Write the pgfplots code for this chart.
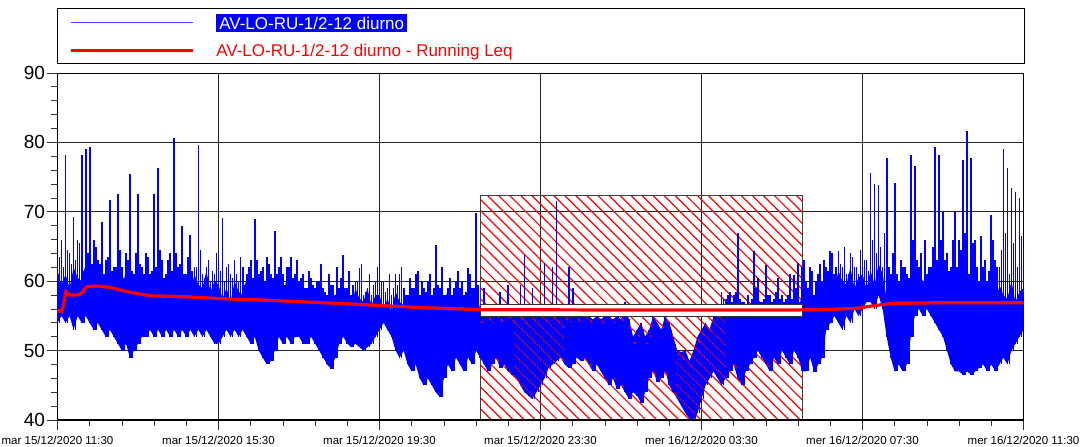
\documentclass[border=0pt]{standalone}
\usepackage{fontspec}
\setmainfont{Liberation Sans}
\usepackage{pgfplots}
\usepackage{pgfplotstable}
\pgfplotsset{compat=1.18}
\usepgfplotslibrary{fillbetween}
\usetikzlibrary{patterns.meta}
\definecolor{dblue}{RGB}{0,0,255}
\definecolor{lblue}{RGB}{70,70,255}
\definecolor{dred}{RGB}{255,0,0}
% t = hours after 15/12 11:30; hi = peak, lo = trough, c = top of the dense core, m = secondary peak (t+0.05)
\pgfplotstableread{
t hi lo c m
0.0 63 54 61.5 63.5
0.1 66 55 59.5 62
0.2 78.2 54 61 64.5
0.3 64 55 59 62.5
0.4 69.3 53 62 63
0.5 66 55 60.5 65.5
0.6 78.2 54 60 61.5
0.7 79 55 62.5 64
0.8 79.4 54 59.5 62.5
0.9 66 53 61 65
1.0 63 54 60.5 62.5
1.1 68.6 53 58.5 61
1.2 63 52 60 63.5
1.3 71.7 53 58 61.5
1.4 62 52 61 62
1.5 72.5 51 59.5 64.5
1.6 62 50 59 60.5
1.7 64 51 61.5 63
1.8 75.4 49 58.5 61.5
1.9 61 50 60 64
2.0 72.6 51 60.5 62.5
2.1 62 52 58.5 61
2.2 64 52 60 63.5
2.3 61 53 58 61.5
2.4 72.5 52 61 62
2.5 76.3 53 59.5 64.5
2.6 63 52 59 60.5
2.7 61 53 61.5 63
2.8 64 52 58.5 61.5
2.9 80.6 53 60 64
3.0 62 52 60.5 62.5
3.1 67.9 53 58.5 61
3.2 61 52 60 63.5
3.3 66.7 53 58 61.5
3.4 62 52 61 62
3.5 79.6 53 59.5 64.5
3.6 61 52 59 60.5
3.7 62 53 61.5 63
3.8 60 52 58.5 61.5
3.9 61 51 60 64
4.0 63 51 59.5 61.5
4.1 69.1 52 57.5 60
4.2 62 53 59 62.5
4.3 61 52 57 60.5
4.4 63 53 60 61
4.5 60 52 58.5 63.5
4.6 62 53 58 59.5
4.7 61 52 60.5 62
4.8 63 51 57.5 60.5
4.9 68.9 52 59 63
5.0 61 50 59.5 61.5
5.1 62 49 57.5 60
5.2 63.5 48 59 62.5
5.3 61 48.5 57 60.5
5.4 67.2 50 60 61
5.5 62 52 58.5 63.5
5.6 61 51 58 59.5
5.7 62 52 60.5 62
5.8 63.5 51 57.5 60.5
5.9 61 52 59 63
6.0 60 52 58.5 60.5
6.1 61 51 56.5 59
6.2 59 51 58 61.5
6.3 60.5 52 56 59.5
6.4 59 51 59 60
6.5 60 50 57.5 62.5
6.6 59 49 57 58.5
6.7 58 48 59.5 61
6.8 59.5 47.4 56.5 59.5
6.9 58 49 58 62
7.0 59 51 58.5 60.5
7.1 63.8 52 56.5 59
7.2 59 51 58 61.5
7.3 58 50.5 56 59.5
7.4 60 51 59 60
7.5 61.9 50.5 57.5 62.5
7.6 58 50 57 58.5
7.7 59 50.5 59.5 61
7.8 58 51 56.5 59.5
7.9 60 52 58 62
8.0 65.8 53 58 60
8.1 60 54 56 58.5
8.2 59 53 57.5 61
8.3 58 52 55.5 59
8.4 61 50 58.5 59.5
8.5 61.1 49 57 62
8.6 59 50 56.5 58
8.7 58 48 59 60.5
8.8 59 47 56 59
8.9 61.1 48 57.5 61.5
9.0 58 46 58 60
9.1 59 45 56 58.5
9.2 60 46 57.5 61
9.3 58 45 55.5 59
9.4 65.2 44 58.5 59.5
9.5 59 43.3 57 62
9.6 58 46 56.5 58
9.7 59 48 59 60.5
9.8 58 47 56 59
9.9 60 49 57.5 61.5
10.0 59 48 58 60
10.1 58 47 56 58.5
10.2 61.9 49 57.5 61
10.3 59 48 55.5 59
10.4 69.8 50 58.5 59.5
10.5 56 49 56 54
10.6 59 48 56 54
10.7 55.5 47 56 54
10.8 55 48 56 54
10.9 55.5 49 56 54
11.0 58.5 47.5 56 54
11.1 55 48 56 54
11.2 59.5 47 56 54
11.3 55 46.5 56 54
11.4 55.5 46 56 54
11.5 59.5 45 56 54
11.6 63.8 44 56 54
11.7 55 43.5 56 54
11.8 59 43 56 54
11.9 55 44 56 54
12.0 55.5 45 56 54
12.1 62.6 46 56 54
12.2 55 47.5 56 54
12.3 62.1 48 56 54
12.4 71.5 48.5 56 54
12.5 55 49 56 54
12.6 55.5 48 56 54
12.7 62.1 47.5 56 54
12.8 59 48 56 54
12.9 55 49 56 54
13.0 55.5 48.5 56 54
13.1 55 49 56 54
13.2 55 48 56 54
13.3 54.5 47 56 54
13.4 55 48 56 54
13.5 54.5 47 56 54
13.6 55 46 56 54
13.7 55 45 56 54
13.8 54.5 46 56 54
13.9 55 44.5 56 54
14.0 54.5 45 56 54
14.1 57 44 56 54
14.2 54.5 43 56 53
14.3 52 44 56 51
14.4 53 43.5 56 52
14.5 54 42.5 56 53
14.6 52 44 56 51
14.7 53 46 56 52
14.8 55 47 56 54
14.9 54 45.5 56 53
15.0 53 46 56 52
15.1 55 47 56 54
15.2 54 45 56 53
15.3 52 44 56 51
15.4 50 43 56 49
15.5 49.8 42 56 48
15.6 50 41 56 49
15.7 48.5 40.2 56 47
15.8 50 40 56 49
15.9 52 41 56 51
16.0 53 43 56 52
16.1 54 45 56 53
16.2 53 46 56 52
16.3 55 47 56 54
16.4 55 46 56 54
16.5 58.5 45 56 57.5
16.6 57.5 46 56 58
16.7 58.5 47 56 57
16.8 58 48 56 58.5
16.9 66.9 46 56 57.5
17.0 57 45 56 57
17.1 55.5 47 56 58
17.2 56 48 56 57.5
17.3 64.3 49 56 59
17.4 60.4 50 56 57
17.5 57 49 56 57.5
17.6 62.3 48 56 58
17.7 58 47 56 57
17.8 57.5 49 56 58.5
17.9 60.4 48 56 57.5
18.0 58 50 56 57
18.1 57.5 49 56 58
18.2 61.1 48 56 57.5
18.3 60.9 50 56 59
18.4 62.6 49 56 57
18.5 62 47 58 63
18.6 60 47 57.5 59
18.7 62 49 60 61.5
18.8 58 46.9 57 60
18.9 61 48 58.5 62.5
19.0 60 49 61 63
19.1 62 53 59 61.5
19.2 64.3 54 60.5 64
19.3 61 55 58.5 62
19.4 64.3 54 61.5 62.5
19.5 62 53 60 65
19.6 61 55 59.5 61
19.7 64 54 62 63.5
19.8 62 56 59 62
19.9 61 55 60.5 64.5
20.0 62 56 61 63
20.1 63 57 59 61.5
20.2 75.6 57 61.5 66
20.3 74 56 59.5 64
20.4 73.9 58 62.5 65
20.5 62 56 61 67
20.6 77.8 52 57.5 62
20.7 61 49 60 64
20.8 74.1 47 57 61
20.9 60 48 58.5 63
21.0 62 47 59 62
21.1 61 48 57 60.5
21.2 78.2 52 60.5 66
21.3 76.6 55 58.5 63
21.4 62 56 61.5 64
21.5 60 55 60 66
21.6 61 56 59.5 62
21.7 62 55 62 65
21.8 79.4 54 59 63
21.9 78.2 53 60.5 66
22.0 70 52 59 63
22.1 64 50 57 61.5
22.2 62 48 58.5 66
22.3 70.1 47 56.5 62
22.4 66 47 59.5 64.5
22.5 77.5 46.5 58 67
22.6 81.6 47 57.5 61
22.7 77.8 46.5 60 65.5
22.8 66 47 57 62
22.9 60 47.5 58.5 66.5
23.0 62 48 59 63
23.1 60 47 57 61.5
23.2 69.6 48 58.5 66
23.3 63 47 56.5 62
23.4 62 48 59.5 64.5
23.5 79 49 58 67
23.6 76.3 48 57.5 61
23.7 73.4 50 60 65.5
23.8 72.9 51 57 62
23.9 72 52 58.5 66.5
24.0 65 53 59 63
}\bdata
\begin{document}
\begin{tikzpicture}
\begin{axis}[
  scale only axis, width=966pt, height=347pt,
  xmin=0, xmax=24, ymin=40, ymax=90,
  xtick={0,4,...,24},
  xticklabels={mar 15/12/2020 11:30, mar 15/12/2020 15:30, mar 15/12/2020 19:30, mar 15/12/2020 23:30, mer 16/12/2020 03:30, mer 16/12/2020 07:30, mer 16/12/2020 11:30},
  ytick={40,50,...,90},
  minor x tick num=4, minor y tick num=4,
  tick pos=left, tick align=outside,
  major tick length=10pt, minor tick length=6pt,
  tick style={black!80, line width=0.8pt},
  grid=major, major grid style={black!85, line width=1pt},
  axis line style={black, line width=0.9pt},
  xticklabel style={font=\fontsize{11.5}{12}\selectfont, yshift=-3pt},
  yticklabel style={font=\fontsize{19}{20}\selectfont, xshift=1pt},
  /pgf/number format/assume math mode=true,
  legend style={at={(rel axis cs:0,1)}, anchor=south west, yshift=9pt, draw=black, line width=0.8pt,
     inner xsep=12pt, inner ysep=4pt, row sep=9pt, font=\fontsize{17}{18}\selectfont},
  legend cell align=left,
]
\addplot[draw=black!75, line width=0.8pt, pattern={Lines[angle=-45,distance=7.8pt,line width=1.2pt]}, pattern color=dred, forget plot]
  coordinates {(10.5,40)(10.5,72.3)(18.5,72.3)(18.5,40)} -- cycle;

\addplot[name path=blo, draw=none, forget plot] table[x=t, y=lo] {\bdata};
\addplot[name path=bhi, draw=none, forget plot] table[x=t, y expr={min(\thisrow{hi},\thisrow{c})}] {\bdata};
\addplot[fill=dblue, draw=none, forget plot] fill between[of=bhi and blo];
\addplot[draw=dblue, line width=1.7pt, no markers, forget plot,
  quiver={u=0, v=\thisrow{m}-\thisrow{lo}}]
  table[x expr={\thisrow{t}+0.05}, y=lo] {\bdata};
\addplot[draw=dblue, line width=1.7pt, no markers,
  quiver={u=0, v=\thisrow{hi}-\thisrow{lo}},
  legend image code/.code={\draw[draw=lblue, line width=1.1pt] (0pt,0pt) -- (122pt,0pt);}]
  table[x=t, y=lo] {\bdata};
\addlegendentry{\hspace*{20pt}\colorbox{dblue}{\textcolor{white}{AV-LO-RU-1/2-12 diurno}}}

\addplot[fill=white, draw=black!80, line width=0.8pt, forget plot]
  coordinates {(10.5,55.0)(10.5,56.7)(18.5,56.7)(18.5,55.0)} -- cycle;

\addplot[draw=dred, line width=3.2pt, no markers,
  legend image code/.code={\draw[draw=dred, line width=2.4pt] (0pt,0pt) -- (122pt,0pt);}]
 coordinates {(0,55.8)(0.1,55.6)(0.15,56.5)(0.21,58.5)(0.3,58.0)(0.5,58.0)(0.6,58.3)(0.73,59.2)(1.0,59.3)(1.3,59.1)(1.8,58.4)(2.3,57.9)(3.0,57.8)(3.7,57.6)(4.4,57.4)(5.0,57.3)(6.0,57.05)(7.0,56.8)(8.0,56.5)(9.0,56.2)(10.0,56.0)(10.5,55.9)(14,55.85)(18.2,55.85)(19.0,55.9)(19.87,56.1)(20.2,56.4)(20.7,56.8)(22,56.9)(24,56.9)};
\addlegendentry{\hspace*{20pt}\textcolor{dred}{AV-LO-RU-1/2-12 diurno - Running Leq}\hspace*{498pt}}

\draw[black, line width=2.6pt] (rel axis cs:0,0) -- (rel axis cs:1,0);
\node[anchor=east, font=\fontsize{19}{20}\selectfont] at (rel axis cs:0,0.896) [xshift=-15pt] {dBA};
\end{axis}
\pgfresetboundingbox
\path (current axis.south west) ++(-57.5pt,-27pt) rectangle ++(1087pt,447pt);
\end{tikzpicture}
\end{document}
